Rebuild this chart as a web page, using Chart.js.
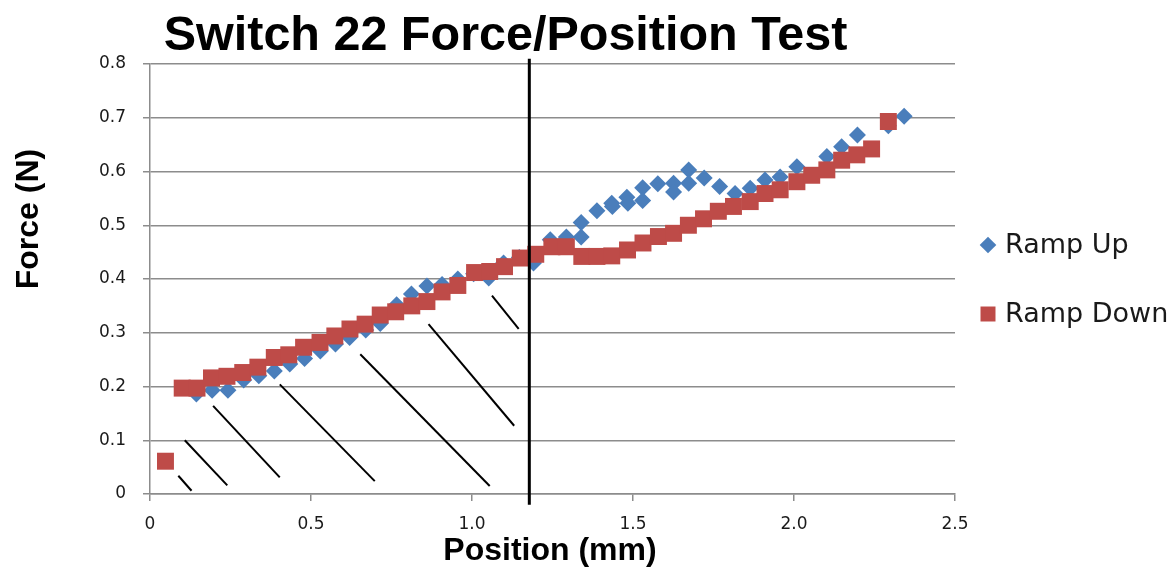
<!DOCTYPE html>
<html>
<head>
<meta charset="utf-8">
<script src="https://cdn.jsdelivr.net/npm/chart.js@4.4.1/dist/chart.umd.min.js"></script>
<style>
  html, body { margin: 0; padding: 0; background: #ffffff; }
  #wrap { position: relative; width: 1173px; height: 571px; }
</style>
</head>
<body>
<div id="wrap"><canvas id="c" width="1173" height="571"></canvas></div>
<script>
// ---- data ----
const chartTitle = 'Switch 22 Force/Position Test';
const xAxisTitle = 'Position (mm)';
const yAxisTitle = 'Force (N)';
const seriesNames = ['Ramp Up', 'Ramp Down'];

const rampUpPosition = [0.144, 0.193, 0.242, 0.291, 0.338, 0.386, 0.434, 0.480, 0.529, 0.576,
  0.620, 0.670, 0.715, 0.766, 0.812, 0.860, 0.907, 0.956, 1.005, 1.052,
  1.098, 1.147, 1.191, 1.243, 1.293, 1.339, 1.339, 1.388, 1.434, 1.436,
  1.481, 1.484, 1.530, 1.530, 1.577, 1.626, 1.626, 1.673, 1.673, 1.721,
  1.769, 1.817, 1.864, 1.910, 1.957, 2.009, 2.102, 2.148, 2.197,
  2.293, 2.342];
const rampUpForce = [0.186, 0.193, 0.193, 0.212, 0.220, 0.229, 0.242, 0.252, 0.266, 0.279,
  0.291, 0.305, 0.317, 0.352, 0.372, 0.387, 0.390, 0.400, 0.410, 0.402,
  0.430, 0.440, 0.430, 0.473, 0.478, 0.478, 0.505, 0.527, 0.541, 0.535,
  0.552, 0.541, 0.570, 0.546, 0.577, 0.578, 0.562, 0.603, 0.578, 0.588,
  0.572, 0.559, 0.569, 0.584, 0.590, 0.609, 0.628, 0.646, 0.668,
  0.685, 0.703];

const rampDownPosition = [0.048, 0.100, 0.146, 0.191, 0.239, 0.288, 0.335, 0.386, 0.431, 0.477,
  0.528, 0.574, 0.621, 0.668, 0.715, 0.763, 0.813, 0.860, 0.907, 0.956,
  1.008, 1.055, 1.101, 1.150, 1.198, 1.248, 1.293, 1.341, 1.388, 1.434,
  1.483, 1.531, 1.579, 1.626, 1.672, 1.719, 1.765, 1.812, 1.864, 1.910,
  1.957, 2.009, 2.055, 2.102, 2.148, 2.195, 2.241, 2.293];
const rampDownForce = [0.061, 0.197, 0.197, 0.216, 0.219, 0.226, 0.236, 0.254, 0.259, 0.273,
  0.282, 0.294, 0.307, 0.316, 0.333, 0.339, 0.350, 0.358, 0.376, 0.388,
  0.412, 0.414, 0.423, 0.439, 0.446, 0.460, 0.460, 0.442, 0.442, 0.443,
  0.454, 0.467, 0.479, 0.485, 0.500, 0.512, 0.526, 0.535, 0.544, 0.559,
  0.566, 0.581, 0.593, 0.603, 0.621, 0.631, 0.642, 0.693];

// vertical marker line (position, force range)
const markerPosition = 1.178;
const markerForce = [0.81, -0.02];

// hand-drawn hatch segments: start (x1,y1) -> end (x2,y2)
const hatchX1 = [0.088, 0.108, 0.196, 0.403, 0.653, 0.865, 1.062];
const hatchY1 = [0.034, 0.100, 0.164, 0.204, 0.260, 0.316, 0.369];
const hatchX2 = [0.129, 0.240, 0.403, 0.698, 1.055, 1.131, 1.145];
const hatchY2 = [0.006, 0.016, 0.031, 0.024, 0.015, 0.127, 0.307];

const xTicks = { min: 0, max: 2.5, step: 0.5 };
const yTicks = { min: 0, max: 0.8, step: 0.1 };

// ---- styles ----
const BLUE = '#4a7ebb';
const RED = '#be4b48';
const GRID = '#8c8c8c';
const TEXT = '#1a1a1a';

const toPts = (xs, ys) => xs.map((x, i) => ({ x: x, y: ys[i] }));

const datasets = [
  {
    label: seriesNames[0],
    data: toPts(rampUpPosition, rampUpForce),
    pointStyle: 'rectRot',
    pointRadius: 8.5,
    pointHoverRadius: 8.5,
    pointBackgroundColor: BLUE,
    pointBorderWidth: 0,
    backgroundColor: BLUE,
    borderColor: BLUE,
    showLine: false,
    order: 3
  },
  {
    label: seriesNames[1],
    data: toPts(rampDownPosition, rampDownForce),
    pointStyle: 'rect',
    pointRadius: 12,
    pointHoverRadius: 12,
    pointBackgroundColor: RED,
    pointBorderWidth: 0,
    backgroundColor: RED,
    borderColor: RED,
    showLine: false,
    order: 2
  },
  {
    label: 'marker',
    data: markerForce.map(y => ({ x: markerPosition, y: y })),
    showLine: true,
    borderColor: '#000000',
    borderWidth: 3,
    pointRadius: 0,
    clip: false,
    order: 0
  }
];
hatchX1.forEach((x1, i) => {
  datasets.push({
    label: 'hatch' + i,
    data: [{ x: x1, y: hatchY1[i] }, { x: hatchX2[i], y: hatchY2[i] }],
    showLine: true,
    borderColor: '#000000',
    borderWidth: 2,
    pointRadius: 0,
    order: 1
  });
});

const textPlugin = {
  id: 'textPlugin',
  afterDraw(chart) {
    const ctx = chart.ctx;
    ctx.save();
    // title
    ctx.fillStyle = '#000000';
    ctx.font = 'bold 48.5px "Liberation Sans", Arial, sans-serif';
    ctx.textAlign = 'center';
    ctx.textBaseline = 'alphabetic';
    ctx.fillText(chartTitle, 505.5, 50);
    // x axis title
    ctx.font = 'bold 32px "Liberation Sans", Arial, sans-serif';
    ctx.textBaseline = 'middle';
    ctx.fillText(xAxisTitle, 550, 551);
    // y axis title
    ctx.save();
    ctx.translate(29, 219);
    ctx.rotate(-Math.PI / 2);
    ctx.fillText(yAxisTitle, 0, 0);
    ctx.restore();
    // legend
    const items = [
      { ds: chart.data.datasets[0], y: 245, r: 8.3 },
      { ds: chart.data.datasets[1], y: 314, r: 10.6 }
    ];
    ctx.font = '27px "DejaVu Sans", sans-serif';
    ctx.textAlign = 'left';
    ctx.textBaseline = 'middle';
    items.forEach(it => {
      ctx.fillStyle = it.ds.pointBackgroundColor;
      Chart.helpers.drawPoint(ctx, { pointStyle: it.ds.pointStyle, radius: it.r, borderWidth: 0, rotation: 0 }, 988, it.y);
      ctx.fillStyle = TEXT;
      ctx.fillText(it.ds.label, 1005, it.y + 1);
    });
    ctx.restore();
  }
};

new Chart(document.getElementById('c'), {
  type: 'scatter',
  data: { datasets: datasets },
  options: {
    responsive: false,
    animation: false,
    events: [],
    layout: { padding: { top: 64, right: 218, bottom: 0, left: 0 } },
    plugins: {
      legend: { display: false },
      title: { display: false },
      tooltip: { enabled: false }
    },
    scales: {
      x: {
        type: 'linear',
        min: xTicks.min,
        max: xTicks.max,
        afterFit(scale) { scale.height = 77; },
        ticks: {
          stepSize: xTicks.step,
          color: TEXT,
          font: { family: '"DejaVu Sans", sans-serif', size: 17 },
          padding: 13,
          maxRotation: 0
        },
        grid: { drawOnChartArea: false, drawTicks: true, tickLength: 7, color: GRID, lineWidth: 1.5 },
        border: { display: true, color: GRID, width: 1.5 }
      },
      y: {
        type: 'linear',
        min: yTicks.min,
        max: yTicks.max,
        afterFit(scale) { scale.width = 150; },
        ticks: {
          stepSize: yTicks.step,
          color: TEXT,
          font: { family: '"DejaVu Sans", sans-serif', size: 17 },
          padding: 17
        },
        grid: { drawOnChartArea: true, drawTicks: true, tickLength: 7, color: GRID, lineWidth: 1.5 },
        border: { display: true, color: GRID, width: 1.5 }
      }
    }
  },
  plugins: [textPlugin]
});
</script>
</body>
</html>
